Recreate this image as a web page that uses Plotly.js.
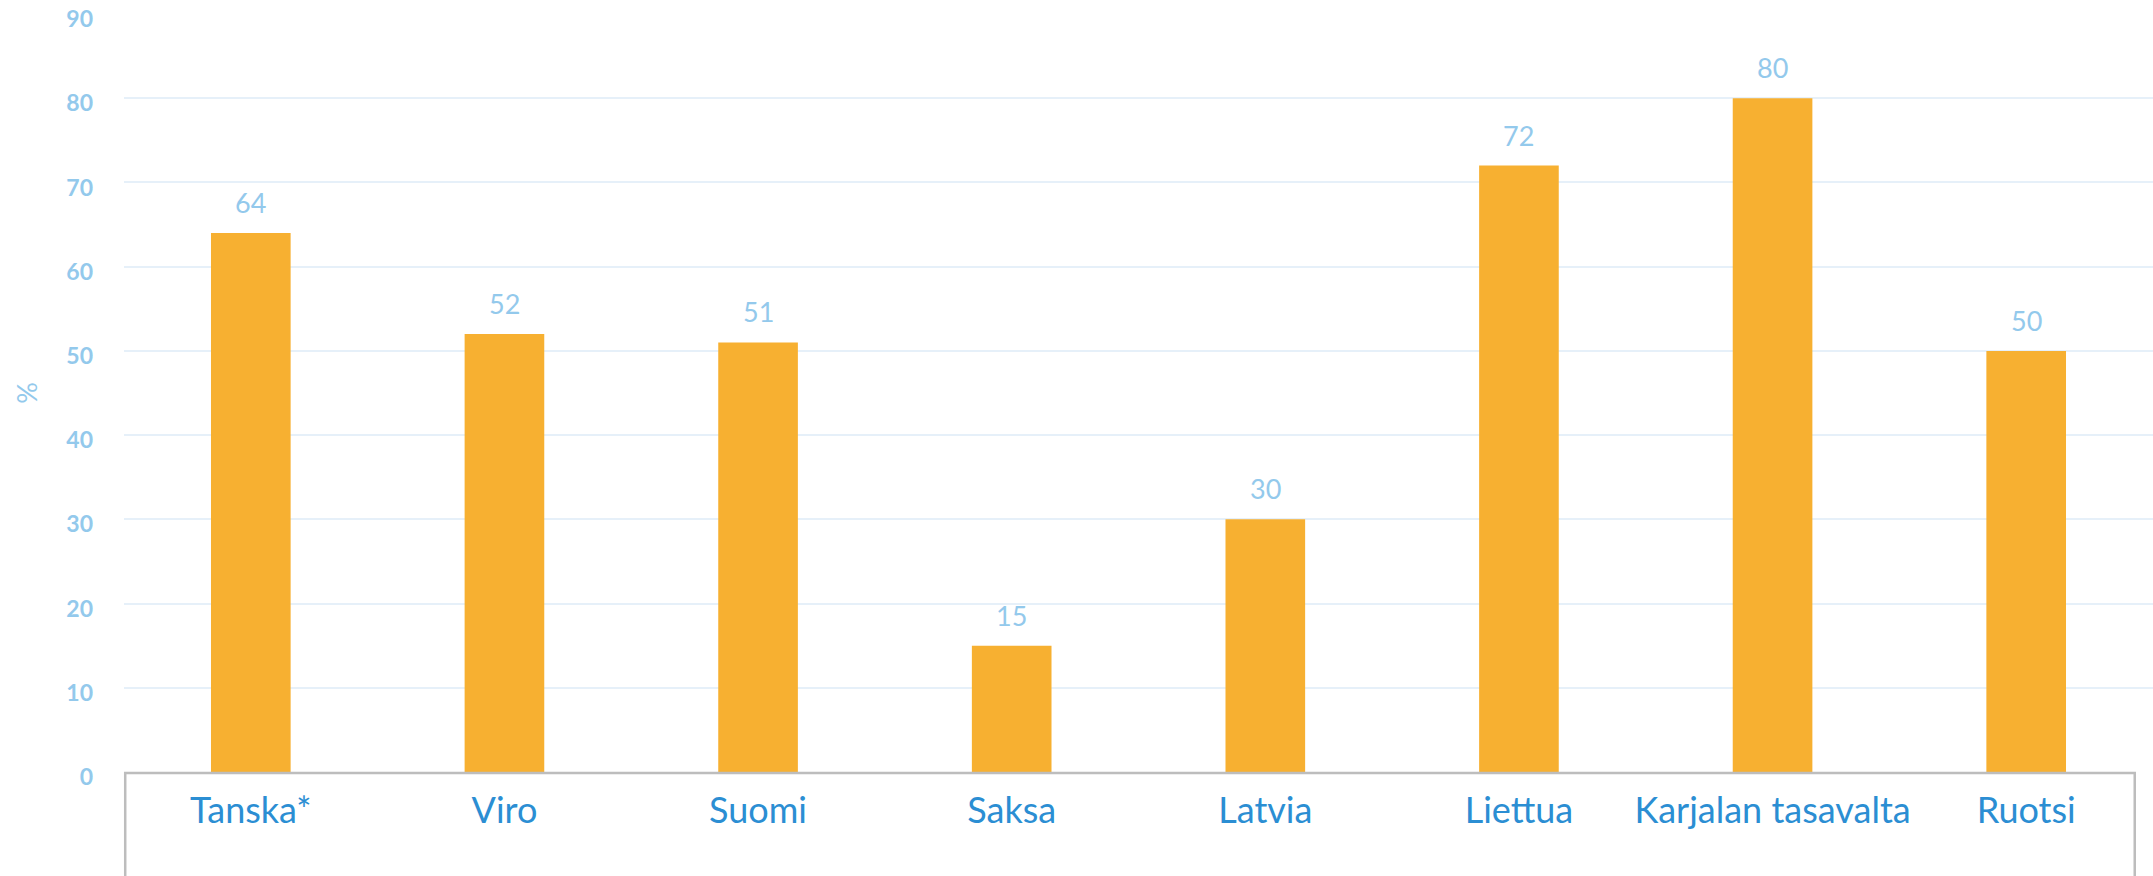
<!DOCTYPE html>
<html>
<head>
<meta charset="utf-8">
<script src="https://cdn.plot.ly/plotly-3.0.1.min.js"></script>
<style>html,body{margin:0;padding:0;background:#fff;}#chart{width:2153px;height:876px;}</style>
</head>
<body>
<div id="chart"></div>
<script>
const categories = ["Tanska*", "Viro", "Suomi", "Saksa", "Latvia", "Liettua", "Karjalan tasavalta", "Ruotsi"];
const values = [64, 52, 51, 15, 30, 72, 80, 50];
const yTicks = [0, 10, 20, 30, 40, 50, 60, 70, 80, 90];

const labelBlue = "#93C9EC";
const catBlue = "#2B8ED3";

const trace = {
  type: "bar",
  x: categories,
  y: values,
  marker: {color: "#F7B031"},
  hoverinfo: "x+y"
};

const annotations = categories.map((c, i) => ({
  x: c, y: values[i], xref: "x", yref: "y",
  text: String(values[i]), showarrow: false,
  yanchor: "bottom", yshift: 12,
  font: {family: "Lato, sans-serif", size: 27, color: labelBlue}
}));

const layout = {
  width: 2153, height: 876,
  margin: {l: 124, r: 0, t: 14, b: 104, pad: 0},
  paper_bgcolor: "#fff", plot_bgcolor: "#fff",
  bargap: 0.686,
  showlegend: false,
  xaxis: {
    type: "category",
    tickvals: categories,
    ticktext: categories,
    showgrid: false, zeroline: false, showline: false, ticks: "",
    ticklabelstandoff: 14,
    tickfont: {family: "Lato, sans-serif", size: 36, color: catBlue}
  },
  yaxis: {
    range: [0, 90],
    tickvals: yTicks,
    ticktext: yTicks.map(String),
    showgrid: true, gridcolor: "#E6F0F9", gridwidth: 2,
    zeroline: false, showline: false, ticks: "",
    ticklabelstandoff: 30,
    ticklabelshift: 5,
    ticklabeloverflow: "allow",
    tickfont: {family: "Lato, sans-serif", size: 23, color: labelBlue, weight: "bold"},
    title: {text: "%", standoff: 20, font: {family: "Lato, sans-serif", size: 27, color: labelBlue}}
  },
  shapes: [{
    type: "rect", xref: "paper", yref: "paper",
    x0: 0.0006, x1: 0.991, y0: -0.16, y1: -0.0013,
    line: {color: "#BDBDBD", width: 2.5}, fillcolor: "rgba(0,0,0,0)",
    layer: "above"
  }],
  annotations: annotations
};

Plotly.newPlot("chart", [trace], layout, {displayModeBar: false, staticPlot: true});
</script>
</body>
</html>
